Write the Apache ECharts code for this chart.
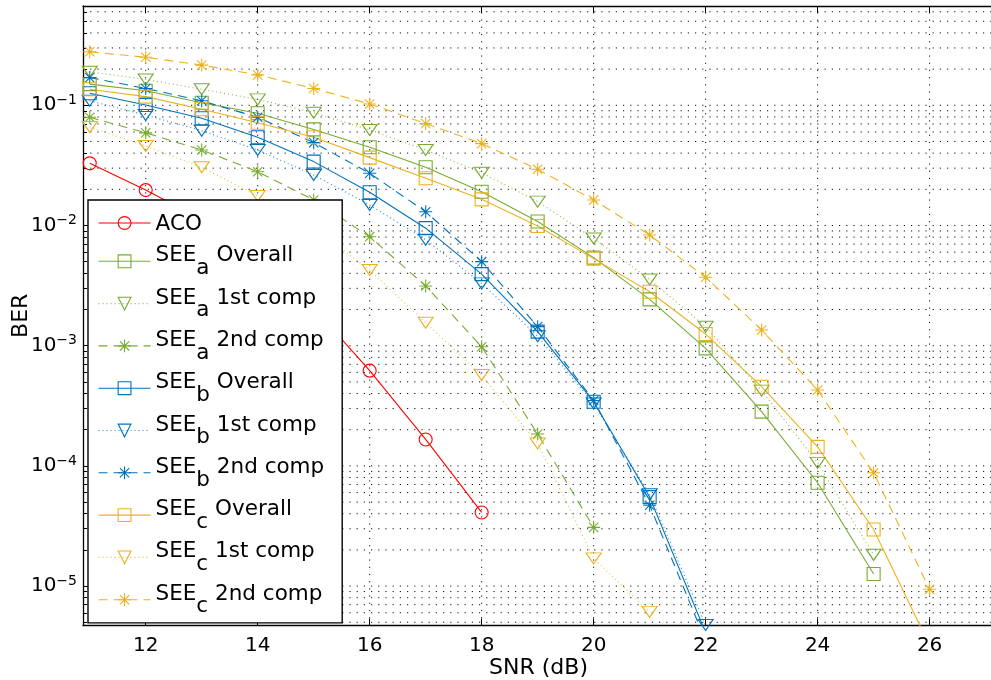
<!DOCTYPE html>
<html>
<head>
<meta charset="utf-8">
<script src="https://cdn.jsdelivr.net/npm/echarts@6/dist/echarts.min.js"></script>
<style>
html, body { margin: 0; padding: 0; background: #fff; }
#chart { width: 991px; height: 680px; }
</style>
</head>
<body>
<div id="chart"></div>
<script>
// SNR points (dB)
const snr = [11, 12, 13, 14, 15, 16, 17, 18, 19, 20, 21, 22, 23, 24, 25, 26];

// BER curves, one value per SNR point (shorter arrays stop earlier)
const aco         = [0.0329, 0.0197, 0.0112, 0.0050, 0.00206, 6.2e-4, 1.66e-4, 4.1e-5];
const seeAOverall = [0.150, 0.132, 0.105, 0.0858, 0.063, 0.0448, 0.0305, 0.0191, 0.0108, 0.0054, 0.00243, 9.5e-4, 2.83e-4, 7.24e-5, 1.26e-5];
const seeA1st     = [0.190, 0.164, 0.136, 0.112, 0.0868, 0.0624, 0.0425, 0.0275, 0.0158, 0.0078, 0.00356, 0.00144, 4.23e-4, 1.06e-4, 1.82e-5];
const seeA2nd     = [0.0795, 0.059, 0.0425, 0.028, 0.0163, 0.00807, 0.00314, 9.8e-4, 1.84e-4, 3.08e-5];
const seeBOverall = [0.126, 0.1005, 0.078, 0.0542, 0.034, 0.0189, 0.0095, 0.00394, 0.00131, 3.42e-4, 5.5e-5, 4.1e-6];
const seeB1st     = [0.109, 0.083, 0.0615, 0.0425, 0.0263, 0.0148, 0.0076, 0.0033, 0.0012, 3.3e-4, 5.8e-5, 4.75e-6];
const seeB2nd     = [0.170, 0.138, 0.109, 0.0795, 0.0489, 0.0272, 0.013, 0.0050, 0.00144, 3.5e-4, 4.7e-5, 3.5e-6];
const seeCOverall = [0.136, 0.118, 0.0926, 0.0716, 0.0542, 0.0367, 0.0247, 0.0165, 0.0099, 0.0053, 0.00281, 0.00125, 4.56e-4, 1.44e-4, 2.96e-5, 3.2e-6];
const seeC1st     = [0.066, 0.0458, 0.0305, 0.0176, 0.0095, 0.00427, 0.00155, 5.7e-4, 1.54e-4, 1.7e-5, 6.1e-6];
const seeC2nd     = [0.279, 0.251, 0.216, 0.179, 0.138, 0.1026, 0.0704, 0.048, 0.0294, 0.0163, 0.00834, 0.00371, 0.00135, 4.28e-4, 8.77e-5, 9.4e-6];

// Axis ranges and tick positions
const xRange = [10.88, 27.15];
const yRange = [4.7e-6, 0.67];
const xTicks = [12, 14, 16, 18, 20, 22, 24, 26];
const decades = [-6, -5, -4, -3, -2, -1];
const mantissas = [1, 2, 3, 4, 5, 6, 7, 8, 9];

// Colours
const RED = '#ff0000', GREEN = '#77ac30', BLUE = '#0072bd', GOLD = '#edb120';
const FONT = 'DejaVu Sans';

// Marker shapes
const MARK = {
  circle: { symbol: 'circle', size: 13 },
  square: { symbol: 'rect', size: 13 },
  tri:    { symbol: 'path://M0,0L2,0L1,1.5Z', size: [15, 11] },
  star:   { symbol: 'path://M0,-1L0,1M-1,0L1,0M-0.72,-0.72L0.72,0.72M-0.72,0.72L0.72,-0.72', size: 13 }
};
const DASH = { solid: 'solid', dot: [1, 3], dash: [9, 6] };

const curves = [
  { name: 'ACO',            values: aco,         color: RED,   line: 'solid', mark: 'circle' },
  { name: 'SEE_a Overall',  values: seeAOverall, color: GREEN, line: 'solid', mark: 'square' },
  { name: 'SEE_a 1st comp', values: seeA1st,     color: GREEN, line: 'dot',   mark: 'tri' },
  { name: 'SEE_a 2nd comp', values: seeA2nd,     color: GREEN, line: 'dash',  mark: 'star' },
  { name: 'SEE_b Overall',  values: seeBOverall, color: BLUE,  line: 'solid', mark: 'square' },
  { name: 'SEE_b 1st comp', values: seeB1st,     color: BLUE,  line: 'dot',   mark: 'tri' },
  { name: 'SEE_b 2nd comp', values: seeB2nd,     color: BLUE,  line: 'dash',  mark: 'star' },
  { name: 'SEE_c Overall',  values: seeCOverall, color: GOLD,  line: 'solid', mark: 'square' },
  { name: 'SEE_c 1st comp', values: seeC1st,     color: GOLD,  line: 'dot',   mark: 'tri' },
  { name: 'SEE_c 2nd comp', values: seeC2nd,     color: GOLD,  line: 'dash',  mark: 'star' }
];

// Log grid values (decades and 2..9 sub-divisions) inside the visible range
const logGrid = [];
decades.forEach(d => mantissas.forEach(k => {
  const v = k * Math.pow(10, d);
  if (v >= yRange[0] && v <= yRange[1]) logGrid.push(v);
}));
const minorLog = logGrid.filter(v => Math.abs(Math.log10(v) - Math.round(Math.log10(v))) > 1e-9);

const isDecade = v => Math.abs(Math.log10(v) - Math.round(Math.log10(v))) < 1e-6;

const dataSeries = curves.map(c => ({
  name: c.name,
  type: 'line',
  xAxisIndex: 0,
  yAxisIndex: 0,
  data: c.values.map((v, i) => [snr[i], v]),
  symbol: MARK[c.mark].symbol,
  symbolSize: MARK[c.mark].size,
  showAllSymbol: true,
  clip: true,
  z: 3,
  lineStyle: { color: c.color, width: 1.1, type: DASH[c.line], opacity: c.line === 'dot' ? 0.85 : 1 },
  itemStyle: { color: 'rgba(255,255,255,0)', borderColor: c.color, borderWidth: 1.1 },
  emphasis: { disabled: true },
  animation: false
}));

// Dotted grid: one thin line per grid value, spanning the whole plot
const gridStyle = { color: '#111', width: 1, type: [1.2, 6] };
const gridLine = (id, pts) => ({
  id: id, type: 'line', data: pts, symbol: 'none', silent: true, z: 1,
  lineStyle: gridStyle, emphasis: { disabled: true }, animation: false
});
const gridSeries = logGrid.map((v, i) => gridLine('gy' + i, [[xRange[0], v], [xRange[1], v]]))
  .concat(xTicks.map((x, i) => gridLine('gx' + i, [[x, yRange[0]], [x, yRange[1]]])));

// Legend labels: "SEE" with a subscript letter, then the component name
const legendText = name => {
  const m = name.match(/^SEE_(\w) (.*)$/);
  if (!m) return '{a|' + name + '}{z| }';
  return '{n|SEE}{s|' + m[1] + '}{n| ' + m[2] + '}';
};

const LF = 21.5;

const chart = echarts.init(document.getElementById('chart'), null, { renderer: 'canvas' });
chart.setOption({
  animation: false,
  backgroundColor: '#fff',
  grid: { left: 83, top: 6, right: -3, bottom: 54.5, containLabel: false, outerBoundsMode: 'none' },
  xAxis: [
    {
      type: 'value', position: 'bottom', min: xRange[0], max: xRange[1],
      name: 'SNR (dB)', nameLocation: 'middle', nameGap: 32, nameMoveOverlap: false,
      nameTextStyle: { fontFamily: FONT, fontSize: 22, color: '#000' },
      axisLine: { lineStyle: { color: '#000', width: 1.3 } },
      axisTick: { inside: true, length: 7, customValues: xTicks, lineStyle: { color: '#000', width: 1 } },
      axisLabel: { customValues: xTicks, fontFamily: FONT, fontSize: 20, color: '#000', margin: 10 },
      splitLine: { show: false }
    },
    {
      type: 'value', position: 'top', min: xRange[0], max: xRange[1],
      axisLine: { lineStyle: { color: '#000', width: 1.3 } },
      axisTick: { inside: true, length: 7, customValues: xTicks, lineStyle: { color: '#000', width: 1 } },
      axisLabel: { show: false },
      splitLine: { show: false }
    }
  ],
  yAxis: [
    {
      type: 'log', logBase: 10, position: 'left', min: yRange[0], max: yRange[1],
      name: 'BER', nameLocation: 'middle', nameGap: 51, nameMoveOverlap: false,
      nameTextStyle: { fontFamily: FONT, fontSize: 22, color: '#000' },
      axisLine: { lineStyle: { color: '#000', width: 1.3 } },
      axisTick: { inside: true, length: 8, lineStyle: { color: '#000', width: 1 } },
      axisLabel: {
        margin: 6, color: '#000',
        formatter: v => isDecade(v) ? '{b|10}{e|\u2212' + Math.abs(Math.round(Math.log10(v))) + '}' : '',
        rich: {
          b: { fontFamily: FONT, fontSize: 20, lineHeight: 24, color: '#000' },
          e: { fontFamily: FONT, fontSize: 14, lineHeight: 10, verticalAlign: 'top', color: '#000' }
        }
      },
      splitLine: { show: false }
    },
    {
      type: 'value', position: 'left', min: Math.log10(yRange[0]), max: Math.log10(yRange[1]),
      axisLine: { show: false },
      axisTick: { inside: true, length: 4, customValues: minorLog.map(v => Math.log10(v)), lineStyle: { color: '#000', width: 1 } },
      axisLabel: { show: false },
      splitLine: { show: false }
    }
  ],
  legend: {
    orient: 'vertical',
    left: 88, top: 200,
    data: curves.map(c => c.name),
    backgroundColor: '#fff',
    borderColor: '#000',
    borderWidth: 1.4,
    borderRadius: 0,
    padding: [6.5, 18, 5, 10],
    itemWidth: 52,
    itemHeight: 16,
    itemGap: 7.6,
    selectedMode: false,
    itemStyle: { borderWidth: 1.1 },
    lineStyle: { width: 1.1 },
    formatter: legendText,
    textStyle: {
      color: '#000',
      rich: {
        a: { fontFamily: FONT, fontSize: LF, lineHeight: 33, padding: [6.5, 0, 0, 0], verticalAlign: 'top', color: '#000' },
        z: { fontFamily: FONT, fontSize: LF, lineHeight: 33, padding: [8.7, 0, 0, 0], verticalAlign: 'top', color: '#000' },
        n: { fontFamily: FONT, fontSize: LF, lineHeight: 33, verticalAlign: 'top', color: '#000' },
        s: { fontFamily: FONT, fontSize: LF, lineHeight: 33, padding: [12.7, 0, 0, 0], verticalAlign: 'top', color: '#000' }
      }
    }
  },
  series: gridSeries.concat(dataSeries)
});
</script>
</body>
</html>
